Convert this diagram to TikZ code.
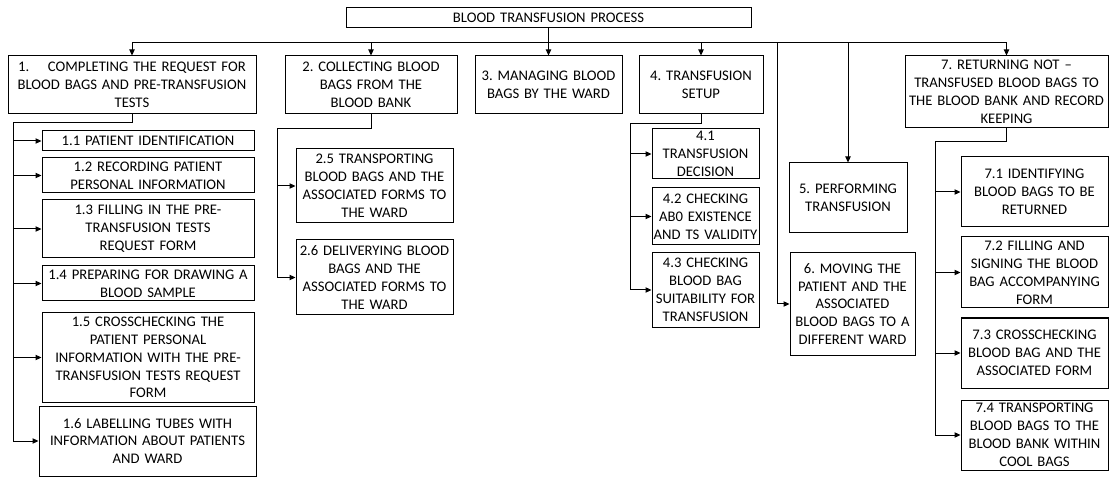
\documentclass[tikz,border=0pt]{standalone}
\usepackage{fontspec}
\setmainfont{Carlito}
\frenchspacing
\usetikzlibrary{arrows.meta}
\tikzset{
  box/.style={draw, line width=0.75pt, align=center, inner xsep=0pt, inner ysep=0pt,
              font=\frenchspacing\fontsize{11}{13.4}\selectfont},
  ln/.style={line width=0.75pt},
  arr/.style={ln, -{Triangle[length=4.5pt,width=4pt]}},
}
\begin{document}
\begin{tikzpicture}[x=0.75pt, y=-0.75pt]
\useasboundingbox (0,0) rectangle (1110,477);
% title
\node[box, text width=303.75pt, minimum height=15pt] (title) at (548.5,18) {BLOOD TRANSFUSION PROCESS};
% level 1
\node[box, text width=186pt, minimum height=43.5pt] (n1) at (132,85) {1.\hspace{14pt}COMPLETING THE REQUEST FOR\\BLOOD BAGS AND PRE-TRANSFUSION\\TESTS};
\node[box, text width=129pt, minimum height=43.5pt] (n2) at (371,85) {2. COLLECTING BLOOD\\BAGS FROM THE\\BLOOD BANK};
\node[box, text width=110.25pt, minimum height=43.5pt] (n3) at (548.5,85) {3. MANAGING BLOOD\\BAGS BY THE WARD};
\node[box, text width=93pt, minimum height=43.5pt] (n4) at (701,85) {4. TRANSFUSION\\SETUP};
\node[box, text width=88.5pt, minimum height=52.5pt] (n5) at (848,198) {5. PERFORMING\\TRANSFUSION};
\node[box, text width=93.75pt, minimum height=76.5pt] (n6) at (852.5,304) {6. MOVING THE\\PATIENT AND THE\\ASSOCIATED\\BLOOD BAGS TO A\\DIFFERENT WARD};
\node[box, text width=152.25pt, minimum height=54pt] (n7) at (1006.5,92) {7. RETURNING NOT –\\TRANSFUSED BLOOD BAGS TO\\THE BLOOD BANK AND RECORD\\KEEPING};
% level 2 : group 1
\node[box, text width=159pt, minimum height=15pt] (n11) at (148,141) {1.1 PATIENT IDENTIFICATION};
\node[box, text width=159pt, minimum height=26.25pt] (n12) at (148,175.5) {1.2 RECORDING PATIENT\\PERSONAL INFORMATION};
\node[box, text width=159pt, minimum height=43.5pt] (n13) at (148,229) {1.3 FILLING IN THE PRE-\\TRANSFUSION TESTS\\REQUEST FORM};
\node[box, text width=159pt, minimum height=26.25pt] (n14) at (148,283.5) {1.4 PREPARING FOR DRAWING A\\BLOOD SAMPLE};
\node[box, text width=159pt, minimum height=66.75pt] (n15) at (148,357.5) {1.5 CROSSCHECKING THE\\PATIENT PERSONAL\\INFORMATION WITH THE PRE-\\TRANSFUSION TESTS REQUEST\\FORM};
\node[box, text width=162.75pt, minimum height=52.5pt] (n16) at (147.5,441) {1.6 LABELLING TUBES WITH\\INFORMATION ABOUT PATIENTS\\AND WARD};
% group 2
\node[box, text width=117.75pt, minimum height=55.5pt] (n25) at (374.5,186) {2.5 TRANSPORTING\\BLOOD BAGS AND THE\\ASSOCIATED FORMS TO\\THE WARD};
\node[box, text width=117.75pt, minimum height=56.25pt] (n26) at (374.5,277.5) {2.6 DELIVERYING BLOOD\\BAGS AND THE\\ASSOCIATED FORMS TO\\THE WARD};
% group 4
\node[box, text width=80.25pt, minimum height=37.5pt] (n41) at (705.5,154) {4.1\\TRANSFUSION\\DECISION};
\node[box, text width=80.25pt, minimum height=42.75pt] (n42) at (705.5,216.5) {4.2 CHECKING\\AB0 EXISTENCE\\AND TS VALIDITY};
\node[box, text width=80.25pt, minimum height=55.5pt] (n43) at (705.5,290) {4.3 CHECKING\\BLOOD BAG\\SUITABILITY FOR\\TRANSFUSION};
% group 7
\node[box, text width=110.25pt, minimum height=52.5pt] (n71) at (1034.5,192) {7.1 IDENTIFYING\\BLOOD BAGS TO BE\\RETURNED};
\node[box, text width=110.25pt, minimum height=53.25pt] (n72) at (1034.5,272.5) {7.2 FILLING AND\\SIGNING THE BLOOD\\BAG ACCOMPANYING\\FORM};
\node[box, text width=110.25pt, minimum height=52.5pt] (n73) at (1034.5,353) {7.3 CROSSCHECKING\\BLOOD BAG AND THE\\ASSOCIATED FORM};
\node[box, text width=110.25pt, minimum height=52.5pt] (n74) at (1034.5,435) {7.4 TRANSPORTING\\BLOOD BAGS TO THE\\BLOOD BANK WITHIN\\COOL BAGS};
% bus
\coordinate (bus) at (548.5,43);
\coordinate (c6) at (777,43);
\draw[ln] (title.south) -- (bus);
\draw[ln] (n1.north |- bus) -- (n7.north |- bus);
\foreach \n in {n1,n2,n3,n4,n5,n7} \draw[arr] (\n.north |- bus) -- (\n.north);
\draw[arr] (c6) |- (n6.west);
% group 1 tree
\coordinate (s1) at (13,123);
\draw[ln] (n1.south) -- (n1.south |- s1) -- (s1) -- (s1 |- n16.west);
\foreach \n in {n11,n12,n13,n14,n15,n16} \draw[arr] (s1 |- \n.west) -- (\n.west);
% group 2 tree
\coordinate (s2) at (277,129);
\draw[ln] (n2.south) -- (n2.south |- s2) -- (s2) -- (s2 |- n26.west);
\foreach \n in {n25,n26} \draw[arr] (s2 |- \n.west) -- (\n.west);
% group 4 tree
\coordinate (s4) at (630,124);
\draw[ln] (n4.south) -- (n4.south |- s4) -- (s4) -- (s4 |- n43.west);
\foreach \n in {n41,n42,n43} \draw[arr] (s4 |- \n.west) -- (\n.west);
% group 7 tree
\coordinate (s7) at (935,142);
\draw[ln] (n7.south) -- (n7.south |- s7) -- (s7) -- (s7 |- n74.west);
\foreach \n in {n71,n72,n73,n74} \draw[arr] (s7 |- \n.west) -- (\n.west);
\end{tikzpicture}
\end{document}
